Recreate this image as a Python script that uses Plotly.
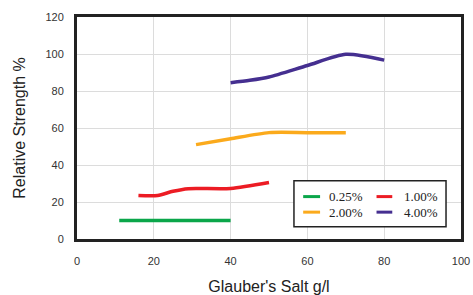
import plotly.graph_objects as go

# Data
x_025 = [11, 40]
y_025 = [10, 10]
x_100 = [16, 21, 25, 29, 40, 50]
y_100 = [23.5, 23.5, 25.8, 27.2, 27.3, 30.5]
x_200 = [31, 40, 50, 60, 70]
y_200 = [51, 54.2, 57.5, 57.5, 57.5]
x_400 = [40, 45, 50, 60, 70, 80]
y_400 = [84.5, 85.8, 87.6, 93.8, 99.8, 96.7]

series = [
    ("0.25%", x_025, y_025, "#0aa64a"),
    ("1.00%", x_100, y_100, "#ec1c24"),
    ("2.00%", x_200, y_200, "#fbaa1c"),
    ("4.00%", x_400, y_400, "#452f90"),
]

x_ticks = [0, 20, 40, 60, 80, 100]
y_ticks = [0, 20, 40, 60, 80, 100, 120]

fig = go.Figure()
for name, xs, ys, col in series:
    fig.add_trace(go.Scatter(x=xs, y=ys, mode="lines", name=name,
                             line=dict(color=col, width=3.5, shape="spline", smoothing=0.7),
                             showlegend=False))

fig.update_layout(
    width=473, height=295,
    margin=dict(l=77, r=12, t=17, b=56),
    plot_bgcolor="white", paper_bgcolor="white",
    font=dict(family="Liberation Sans, Arial, sans-serif", color="#333"),
)
fig.update_xaxes(range=[0, 100], tickvals=x_ticks, showgrid=True, gridcolor="#dcdcdc", gridwidth=1.2,
                 showline=True, linecolor="#222", linewidth=3, mirror=True, zeroline=False,
                 ticks="", tickfont=dict(size=11, color="#333"), ticklabelstandoff=10,
                 automargin=False,
                 title=dict(text="Glauber's Salt g/l", font=dict(size=16, color="#222"), standoff=16))
fig.update_yaxes(range=[0, 120], tickvals=y_ticks, showgrid=True, gridcolor="#dcdcdc", gridwidth=1.2,
                 showline=True, linecolor="#222", linewidth=3, mirror=True, zeroline=False,
                 ticks="", tickfont=dict(size=11, color="#333"), ticklabelstandoff=8,
                 automargin=False,
                 title=dict(text="Relative Strength %", font=dict(size=16, color="#222"), standoff=16))

# Legend box (manual)
fig.add_shape(type="rect", xref="paper", yref="paper", x0=0.565, x1=0.961, y0=0.055, y1=0.262,
              line=dict(color="#222", width=1.5), fillcolor="white", layer="above")
legend_pos = [
    ("0.25%", "#0aa64a", 0.589, 0.633, 0.652, 0.191),
    ("1.00%", "#ec1c24", 0.780, 0.821, 0.846, 0.191),
    ("2.00%", "#fbaa1c", 0.589, 0.633, 0.652, 0.121),
    ("4.00%", "#452f90", 0.780, 0.821, 0.846, 0.121),
]
for name, col, lx0, lx1, tx, yy in legend_pos:
    fig.add_shape(type="line", xref="paper", yref="paper", x0=lx0, x1=lx1, y0=yy, y1=yy,
                  line=dict(color=col, width=3), layer="above")
    fig.add_annotation(xref="paper", yref="paper", x=tx, y=yy, text=name, showarrow=False,
                       xanchor="left", yanchor="middle",
                       font=dict(family="Liberation Serif, Times New Roman, serif", size=13, color="#222"))

fig.write_html("out.html", config={"displayModeBar": False},
               post_script="document.body.style.margin='0';document.body.style.overflow='hidden';")
